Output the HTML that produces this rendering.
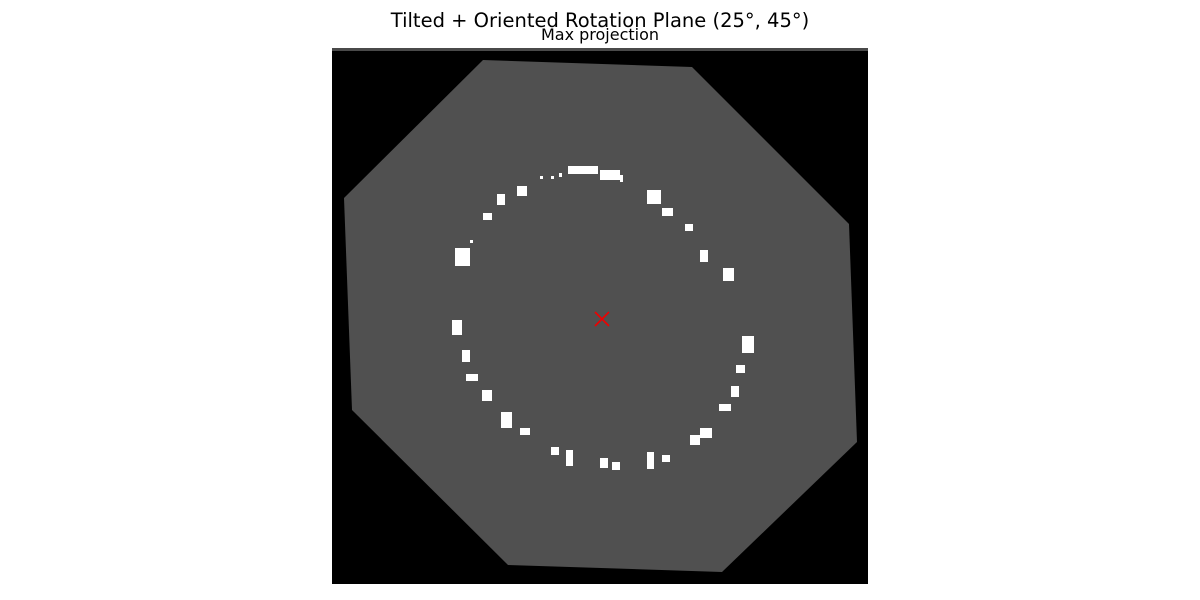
<!DOCTYPE html>
<html><head><meta charset="utf-8"><style>
body{margin:0;background:#fff;font-family:"DejaVu Sans",sans-serif}
svg{display:block}
</style></head><body>
<svg width="1200" height="600" xmlns="http://www.w3.org/2000/svg">
<text x="600" y="27" text-anchor="middle" font-size="19.5" font-family="DejaVu Sans, sans-serif">Tilted + Oriented Rotation Plane (25°, 45°)</text>
<text x="600" y="40" text-anchor="middle" font-size="16" font-family="DejaVu Sans, sans-serif">Max projection</text>
<rect x="332" y="48" width="536" height="536" fill="#000"/>
<rect x="332" y="48" width="536" height="3" fill="#4a4a4a"/>
<g id="plot"></g>
</svg>
<script>
// image coordinates (pixels relative to image origin)
const octX = [151,360,517,525,390,176,20,12];
const octY = [12,19,176,394,524,517,362,150];
const blobX = [236,268,208,219,227,165,185,151,138,123,120,130,134,150,169,188,219,234,268,280,315,330,358,368,387,399,404,410,391,368,353,330,315,288];
const blobY = [118,122,128,128,125,146,138,165,192,200,272,302,326,342,364,380,399,402,410,414,404,407,387,380,356,338,317,288,220,202,176,160,142,127];
const blobW = [30,20,3,3,3,8,10,9,3,15,10,8,12,10,11,10,8,7,8,8,7,8,10,12,12,8,9,12,11,8,8,11,14,3];
const blobH = [8,10,3,3,4,11,10,7,3,18,15,12,7,11,16,7,8,16,10,8,17,7,10,10,7,11,8,17,13,12,7,8,14,7];
const center = [270,271];
const ox = 332, oy = 48;
const sx = v => ox + v, sy = v => oy + v;
const g = document.getElementById('plot');
const NS = 'http://www.w3.org/2000/svg';
const poly = document.createElementNS(NS,'polygon');
poly.setAttribute('points', octX.map((x,i)=>sx(x)+','+sy(octY[i])).join(' '));
poly.setAttribute('fill','#505050');


g.appendChild(poly);
blobX.forEach((x,i)=>{
  const r = document.createElementNS(NS,'rect');
  r.setAttribute('x', sx(x)); r.setAttribute('y', sy(blobY[i]));
  r.setAttribute('width', blobW[i]); r.setAttribute('height', blobH[i]);
  r.setAttribute('fill','#fff');
  
  
  g.appendChild(r);
});
const cx = sx(center[0]), cy = sy(center[1]);
const m = document.createElementNS(NS,'path');
m.setAttribute('d', `M${cx-7},${cy-7}L${cx+7},${cy+7}M${cx-7},${cy+7}L${cx+7},${cy-7}`);
m.setAttribute('stroke','#e00');
m.setAttribute('stroke-width','1.6');


g.appendChild(m);
</script>
</body></html>
